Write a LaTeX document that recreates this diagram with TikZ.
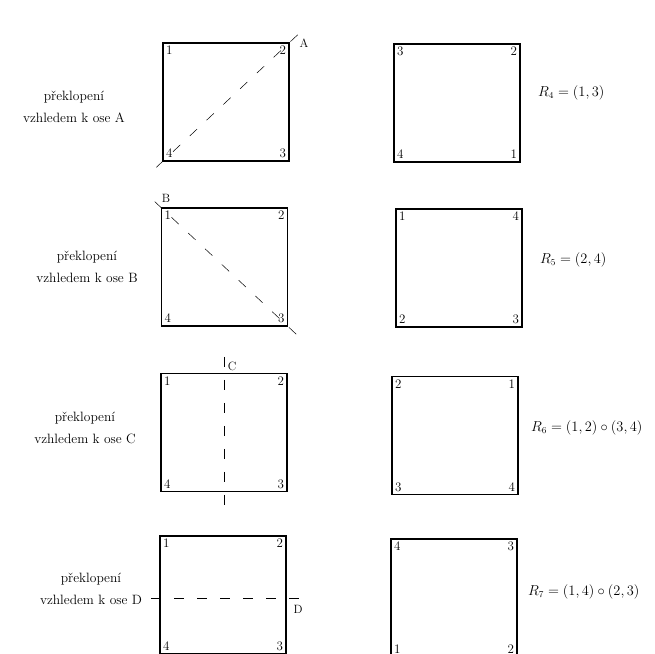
\documentclass[tikz,border=0pt]{standalone}
\usetikzlibrary{positioning,calc}

\begin{document}
\begin{tikzpicture}[x=1pt,y=-1pt,
  sq/.style={draw, line width=1.3pt, minimum width=126pt, minimum height=118pt, inner sep=0pt},
  num/.style={font=\fontsize{13}{15}\selectfont, inner sep=3.5pt},
  axisline/.style={line width=0.5pt, dash pattern=on 10pt off 13pt, dash phase=14pt},
  axislabel/.style={font=\fontsize{12}{14}\selectfont},
  desc/.style={align=center, font=\fontsize{13.5}{22}\selectfont},
  perm/.style={font=\fontsize{13.5}{15}\selectfont, anchor=west}]
  \useasboundingbox (0,0) rectangle (655,653);
  \clip (0,0) rectangle (655,653);

  % squares, left = before, right = after
  \node[sq] (lA) at (226,102) {};
  \node[sq] (rA) at (457,103) {};
  \node[sq] (lB) at (224.5,267) {};
  \node[sq] (rB) at (459,268) {};
  \node[sq] (lC) at (224,432.5) {};
  \node[sq] (rC) at (455,435.5) {};
  \node[sq] (lD) at (223,595) {};
  \node[sq] (rD) at (454,598) {};

  % corner numbers: nw/ne/se/sw
  \foreach \s/\a/\b/\c/\d in {lA/1/2/3/4, rA/3/2/1/4, lB/1/2/3/4, rB/1/4/3/2,
                              lC/1/2/3/4, rC/2/1/4/3, lD/1/2/3/4, rD/4/3/2/1} {
    \node[num, anchor=north west] (\s-nw) at (\s.north west) {\a};
    \node[num, anchor=north east] (\s-ne) at (\s.north east) {\b};
    \node[num, anchor=south east] (\s-se) at (\s.south east) {\c};
    \node[num, anchor=south west] (\s-sw) at (\s.south west) {\d};
  }

  % axis A
  \coordinate (A1) at ($(lA.south west)!-0.1!(lA.north east)$);
  \coordinate (A2) at ($(lA.south west)!1.1!(lA.north east)$);
  \draw[axisline] (A1) -- (A2);
  \node[axislabel] (labA) at (304,43) {A};

  % axis B
  \coordinate (B1) at ($(lB.north west)!-0.1!(lB.south east)$);
  \coordinate (B2) at ($(lB.north west)!1.1!(lB.south east)$);
  \draw[axisline] (B1) -- (B2);
  \node[axislabel] (labB) at (166,198) {B};

  % axis C
  \coordinate (C1) at ($(lC.north)+(0,-16)$);
  \coordinate (C2) at ($(lC.south)+(0,25)$);
  \draw[axisline, dash phase=0pt] (C1) -- (C2);
  \node[axislabel] (labC) at (232,366) {C};

  % axis D
  \coordinate (D1) at ($(lD.west)+(-8,3)$);
  \coordinate (D2) at ($(lD.east)+(17,3)$);
  \draw[axisline, dash phase=0pt] (D1) -- (D2);
  \node[axislabel] (labD) at (298,609) {D};

  % descriptions
  \node[desc] (tA) at (74,107) {překlopení\\vzhledem k ose A};
  \node[desc] (tB) at (87,267) {překlopení\\vzhledem k ose B};
  \node[desc] (tC) at (85,428) {překlopení\\vzhledem k ose C};
  \node[desc] (tD) at (91,589) {překlopení\\vzhledem k ose D};

  % resulting permutations
  \node[perm, right=14pt of rA, yshift=10pt] (pA) {$R_4 = (1,3)$};
  \node[perm, right=14pt of rB, yshift=8pt] (pB) {$R_5 = (2,4)$};
  \node[perm, right=9pt of rC, yshift=8pt] (pC) {$R_6 = (1,2)\circ(3,4)$};
  \node[perm, right=7pt of rD, yshift=6pt] (pD) {$R_7 = (1,4)\circ(2,3)$};
\end{tikzpicture}
\end{document}
